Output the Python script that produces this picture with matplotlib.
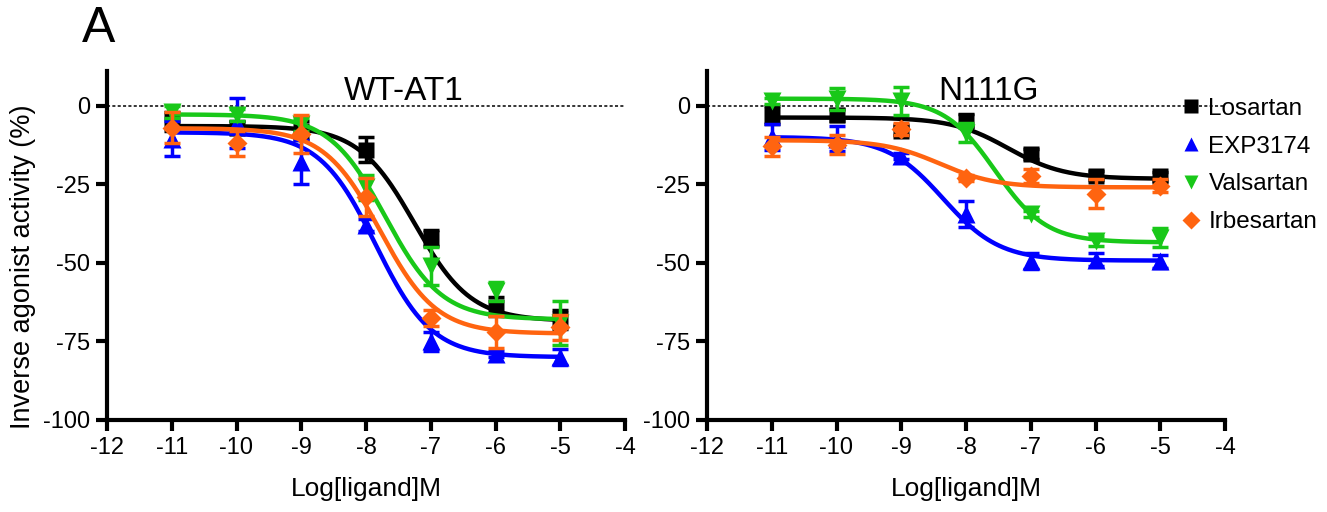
import numpy as np
import matplotlib
matplotlib.use("Agg")
import matplotlib.pyplot as plt
from matplotlib.lines import Line2D

plt.rcParams['font.family'] = ['Liberation Sans', 'DejaVu Sans']

# ---------------- data ----------------
log_conc = [-11, -10, -9, -8, -7, -6, -5]
drugs = ["Losartan", "EXP3174", "Valsartan", "Irbesartan"]
colors = ["#000000", "#0000FF", "#19C819", "#FF6410"]
markers = ["s", "^", "v", "D"]

# WT-AT1 panel
wt_losartan = [-5, -7, -8, -14, -42, -64, -68]
wt_losartan_err = [3, 2, 3, 4, 2.5, 3, 3]
wt_exp3174 = [-10.5, -5.5, -18, -38, -75, -79, -80]
wt_exp3174_err = [5.5, 8, 7, 2, 3, 1, 2.5]
wt_valsartan = [-2, -3, -6, -26, -51, -59, -69]
wt_valsartan_err = [2, 2, 2, 4, 6, 3, 7]
wt_irbesartan = [-7, -12, -9, -29, -67.5, -72, -70.5]
wt_irbesartan_err = [5, 4, 6, 6, 2.5, 5, 4]

# N111G panel
n_losartan = [-3, -3, -8, -4.8, -15.4, -22.3, -22.5]
n_losartan_err = [3, 2, 1.5, 2, 1.5, 1.5, 1.5]
n_exp3174 = [-10, -10.5, -16, -34.5, -49.5, -49, -49.5]
n_exp3174_err = [4, 4, 1, 4, 2.5, 2, 2]
n_valsartan = [1.5, 2, 1.5, -8.6, -34.5, -43, -42]
n_valsartan_err = [1, 3.5, 4.5, 3, 1, 1.5, 3]
n_irbesartan = [-13, -12.5, -7.5, -23, -22.3, -28, -25.5]
n_irbesartan_err = [3, 3, 2, 1, 2.2, 4.5, 2]

# fitted sigmoid parameters: top, bottom, logIC50, hill
wt_fit_top = [-6.5, -8.5, -2.8, -7.2]
wt_fit_bottom = [-68.5, -80, -68, -72.5]
wt_fit_logic50 = [-7.25, -7.85, -7.7, -7.78]
wt_fit_hill = [1.0, 1.0, 1.0, 1.0]

n_fit_top = [-3.8, -10, 2.2, -11]
n_fit_bottom = [-23.3, -49.3, -43.5, -26]
n_fit_logic50 = [-7.35, -8.35, -7.55, -8.4]
n_fit_hill = [1.0, 1.0, 1.1, 1.0]

titles = ["WT-AT1", "N111G"]
x_ticks = [-12, -11, -10, -9, -8, -7, -6, -5, -4]
y_ticks = [0, -25, -50, -75, -100]

# ---------------- figure ----------------
W, H = 1327, 512
fig = plt.figure(figsize=(W / 100, H / 100), dpi=100)

ax1 = fig.add_axes([107 / W, 1 - 420 / H, 518 / W, 349 / H])
ax2 = fig.add_axes([707 / W, 1 - 420 / H, 518 / W, 349 / H])

panels = [
    (ax1, [wt_losartan, wt_exp3174, wt_valsartan, wt_irbesartan],
     [wt_losartan_err, wt_exp3174_err, wt_valsartan_err, wt_irbesartan_err],
     (wt_fit_top, wt_fit_bottom, wt_fit_logic50, wt_fit_hill), titles[0], (-7.42, 4.5)),
    (ax2, [n_losartan, n_exp3174, n_valsartan, n_irbesartan],
     [n_losartan_err, n_exp3174_err, n_valsartan_err, n_irbesartan_err],
     (n_fit_top, n_fit_bottom, n_fit_logic50, n_fit_hill), titles[1], (-7.65, 4.5)),
]

marker_sizes = {"s": 11, "^": 12.5, "v": 12.5, "D": 10}

xs = np.linspace(-11, -5, 300)
for ax, vals, errs, fit, title, tpos in panels:
    ax.axhline(0, color="black", lw=1.1, ls=(0, (2, 1.5)), zorder=1)
    tops, bots, ics, hills = fit
    for i in range(4):
        curve = bots[i] + (tops[i] - bots[i]) / (1 + 10 ** ((xs - ics[i]) * hills[i]))
        ax.plot(xs, curve, color=colors[i], lw=3.2, zorder=2 + i)
        ax.errorbar(log_conc, vals[i], yerr=errs[i], fmt=markers[i], color=colors[i],
                    ms=marker_sizes[markers[i]], mec="none", elinewidth=2.5,
                    capsize=6, capthick=2.5, zorder=2 + i)
    ax.set_xlim(-12, -4)
    ax.set_ylim(-100, 11)
    ax.set_xticks(x_ticks)
    ax.set_xticklabels([str(t) for t in x_ticks])
    ax.set_yticks(y_ticks)
    ax.set_yticklabels([str(t) for t in y_ticks])
    for s in ["top", "right"]:
        ax.spines[s].set_visible(False)
    for s in ["left", "bottom"]:
        ax.spines[s].set_linewidth(3)
    ax.tick_params(axis="both", width=3, length=8, labelsize=17, pad=4)
    ax.set_xlabel("Log[ligand]M", fontsize=19, labelpad=13)
    ax.text(tpos[0], tpos[1], title, fontsize=24, ha="center", va="center")

ax1.set_ylabel("Inverse agonist activity (%)", fontsize=19.5, va="center")
ax1.yaxis.set_label_coords(-0.162, 0.44)

handles = [Line2D([], [], ls="none", marker=markers[i], color=colors[i],
                  ms=9.5 if markers[i] == "D" else 10.5, mec="none") for i in range(4)]
fig.legend(handles, drugs, loc="upper left", bbox_to_anchor=(1172 / W, 1 - 88 / H),
           frameon=False, fontsize=17.5, handlelength=0.8, handletextpad=0.3,
           labelspacing=0.65, borderaxespad=0)

fig.text(99 / W, 1 - 29 / H, "A", fontsize=36, ha="center", va="center")

fig.savefig("out.png", dpi=100)
